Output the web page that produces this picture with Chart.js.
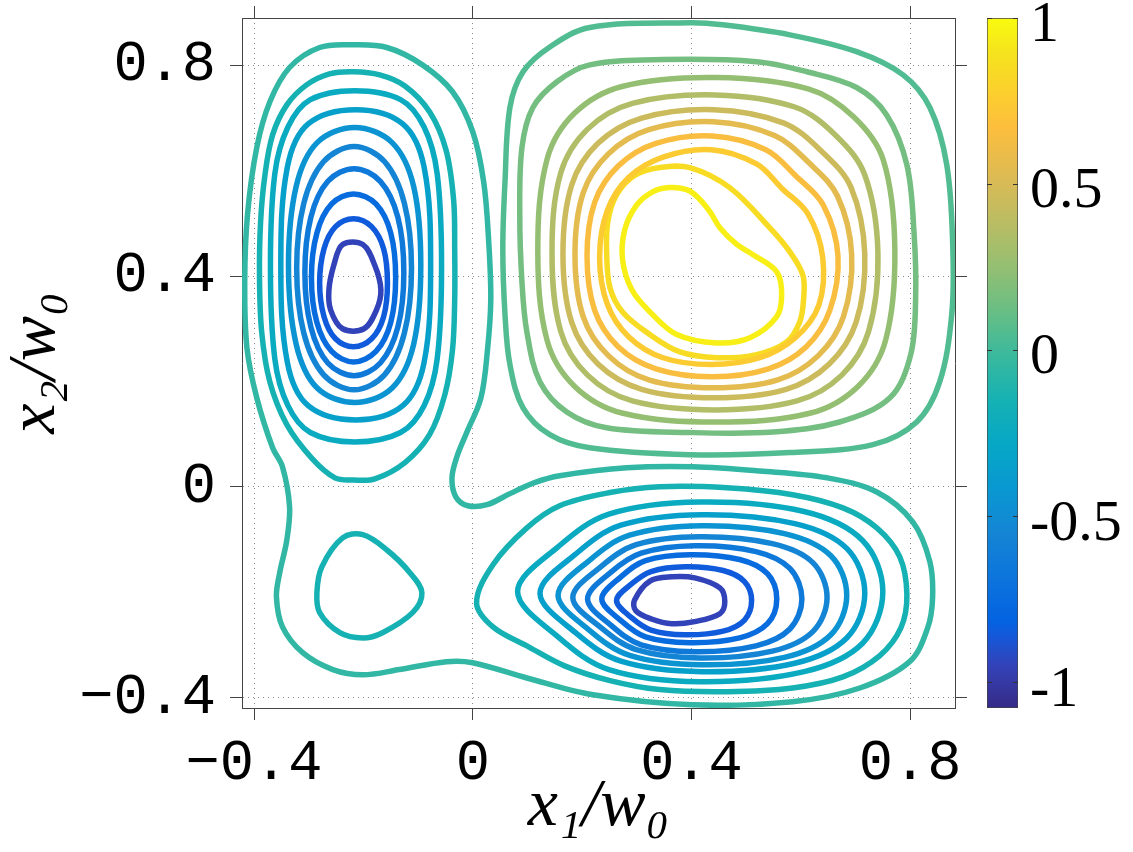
<!DOCTYPE html>
<html><head><meta charset="utf-8">
<script src="https://cdn.jsdelivr.net/npm/chart.js@4.4.1/dist/chart.umd.min.js"></script>
<style>
html,body{margin:0;padding:0;background:#fff;overflow:hidden;width:1133px;height:852px}
#main{position:absolute;left:0;top:0}
#cb{position:absolute;left:960px;top:0}
</style></head>
<body>
<canvas id="main" width="980" height="852"></canvas>
<canvas id="cb" width="173" height="852"></canvas>
<script>
// ---- axes / ticks ----
const xMin = -0.422, xMax = 0.882, yMin = -0.42, yMax = 0.89;
const xTickValues = [-0.4, 0, 0.4, 0.8];
const xTickLabels = ['\u22120.4', '0', '0.4', '0.8'];
const yTickValues = [-0.4, 0, 0.4, 0.8];
const yTickLabels = ['\u22120.4', '0', '0.4', '0.8'];
const cbMin = -1.077, cbMax = 1.0;
const cbTickValues = [-1, -0.5, 0, 0.5, 1];
const cbTickLabels = ['-1', '-0.5', '0', '0.5', '1'];

// ---- contour lines (x1/w0, x2/w0) ----
const negOuter = [[-0.220,0.839],[-0.157,0.834],[-0.092,0.801],[-0.037,0.750],[0.000,0.674],[0.020,0.579],[0.029,0.469],[0.033,0.355],[0.027,0.260],[0.015,0.169],[-0.011,0.103],[-0.029,0.057],[-0.038,0.017],[-0.031,-0.019],[-0.009,-0.036],[0.026,-0.034],[0.068,-0.013],[0.113,0.008],[0.159,0.021],[0.282,0.036],[0.402,0.038],[0.525,0.030],[0.648,0.017],[0.739,-0.010],[0.805,-0.067],[0.836,-0.142],[0.841,-0.211],[0.832,-0.268],[0.799,-0.332],[0.708,-0.382],[0.585,-0.408],[0.402,-0.414],[0.220,-0.395],[0.099,-0.363],[0.000,-0.334],[-0.048,-0.332],[-0.134,-0.347],[-0.201,-0.357],[-0.256,-0.347],[-0.311,-0.315],[-0.348,-0.266],[-0.359,-0.209],[-0.353,-0.163],[-0.340,-0.101],[-0.335,-0.038],[-0.348,0.038],[-0.366,0.074],[-0.395,0.169],[-0.413,0.264],[-0.417,0.389],[-0.412,0.516],[-0.395,0.644],[-0.371,0.731],[-0.335,0.796],[-0.280,0.834]];
const smallLoop = [[-0.201,-0.091],[-0.238,-0.097],[-0.276,-0.152],[-0.285,-0.201],[-0.280,-0.239],[-0.243,-0.277],[-0.201,-0.287],[-0.165,-0.277],[-0.110,-0.239],[-0.093,-0.201],[-0.115,-0.163],[-0.157,-0.120]];

const leftC2 = [[-0.218,0.788],[-0.170,0.782],[-0.124,0.761],[-0.079,0.712],[-0.049,0.640],[-0.035,0.545],[-0.033,0.450],[-0.033,0.355],[-0.037,0.260],[-0.051,0.175],[-0.079,0.099],[-0.124,0.046],[-0.179,0.015],[-0.218,0.013],[-0.252,0.017],[-0.295,0.055],[-0.340,0.118],[-0.371,0.199],[-0.386,0.294],[-0.390,0.399],[-0.388,0.503],[-0.380,0.592],[-0.366,0.668],[-0.340,0.725],[-0.304,0.763],[-0.262,0.784]];
const leftC3 = [[-0.057,0.419],[-0.065,0.594],[-0.089,0.683],[-0.132,0.735],[-0.216,0.752],[-0.297,0.735],[-0.338,0.683],[-0.362,0.594],[-0.370,0.419],[-0.362,0.243],[-0.338,0.154],[-0.297,0.103],[-0.216,0.085],[-0.132,0.103],[-0.089,0.154],[-0.065,0.243]];
const leftC4 = [[-0.077,0.422],[-0.089,0.607],[-0.128,0.689],[-0.214,0.716],[-0.301,0.689],[-0.339,0.607],[-0.351,0.422],[-0.339,0.236],[-0.301,0.154],[-0.214,0.127],[-0.128,0.154],[-0.089,0.236]];
const leftC5 = [[-0.095,0.421],[-0.108,0.570],[-0.147,0.653],[-0.216,0.682],[-0.285,0.653],[-0.323,0.570],[-0.337,0.421],[-0.323,0.271],[-0.285,0.188],[-0.216,0.160],[-0.147,0.188],[-0.108,0.271]];
const leftC6 = [[-0.112,0.415],[-0.125,0.538],[-0.161,0.617],[-0.217,0.646],[-0.273,0.617],[-0.309,0.538],[-0.322,0.415],[-0.309,0.292],[-0.273,0.213],[-0.217,0.184],[-0.161,0.213],[-0.125,0.292]];
const leftC7 = [[-0.126,0.407],[-0.137,0.512],[-0.169,0.580],[-0.217,0.604],[-0.265,0.580],[-0.296,0.512],[-0.307,0.407],[-0.296,0.303],[-0.265,0.235],[-0.217,0.211],[-0.169,0.235],[-0.137,0.303]];
const leftC8 = [[-0.141,0.397],[-0.150,0.482],[-0.177,0.537],[-0.218,0.556],[-0.258,0.537],[-0.285,0.482],[-0.295,0.397],[-0.285,0.312],[-0.258,0.257],[-0.218,0.237],[-0.177,0.257],[-0.150,0.312]];
const leftC9 = [[-0.156,0.387],[-0.163,0.452],[-0.185,0.494],[-0.218,0.509],[-0.251,0.494],[-0.272,0.452],[-0.280,0.387],[-0.272,0.323],[-0.251,0.281],[-0.218,0.266],[-0.185,0.281],[-0.163,0.323]];
const leftC10 = [[-0.238,0.460],[-0.201,0.460],[-0.179,0.420],[-0.168,0.374],[-0.176,0.336],[-0.199,0.300],[-0.238,0.300],[-0.260,0.336],[-0.263,0.374],[-0.254,0.421]];

const botB2 = [[0.007,-0.220],[0.037,-0.148],[0.099,-0.078],[0.159,-0.036],[0.251,-0.011],[0.342,0.000],[0.465,-0.002],[0.585,-0.015],[0.677,-0.040],[0.739,-0.078],[0.781,-0.133],[0.794,-0.205],[0.783,-0.268],[0.744,-0.321],[0.677,-0.361],[0.585,-0.382],[0.465,-0.389],[0.342,-0.385],[0.251,-0.368],[0.168,-0.340],[0.099,-0.302],[0.037,-0.266]];
const botB3 = [[0.750,-0.199],[0.713,-0.102],[0.606,-0.047],[0.415,-0.029],[0.249,-0.052],[0.156,-0.114],[0.082,-0.199],[0.156,-0.285],[0.249,-0.347],[0.415,-0.370],[0.606,-0.351],[0.713,-0.297]];
const botB4 = [[0.717,-0.202],[0.684,-0.117],[0.589,-0.070],[0.419,-0.053],[0.271,-0.073],[0.188,-0.128],[0.123,-0.202],[0.188,-0.277],[0.271,-0.331],[0.419,-0.351],[0.589,-0.335],[0.684,-0.287]];
const botB5 = [[0.684,-0.206],[0.655,-0.131],[0.570,-0.089],[0.419,-0.074],[0.287,-0.092],[0.213,-0.140],[0.156,-0.206],[0.213,-0.272],[0.287,-0.320],[0.419,-0.338],[0.570,-0.324],[0.655,-0.281]];
const botB6 = [[0.648,-0.210],[0.622,-0.144],[0.548,-0.108],[0.415,-0.095],[0.299,-0.110],[0.234,-0.152],[0.183,-0.210],[0.234,-0.267],[0.299,-0.309],[0.415,-0.325],[0.548,-0.312],[0.622,-0.275]];
const botB7 = [[0.602,-0.213],[0.580,-0.155],[0.518,-0.123],[0.406,-0.112],[0.308,-0.126],[0.253,-0.162],[0.210,-0.213],[0.253,-0.263],[0.308,-0.300],[0.406,-0.313],[0.518,-0.302],[0.580,-0.270]];
const botB8 = [[0.556,-0.213],[0.539,-0.165],[0.488,-0.138],[0.397,-0.129],[0.316,-0.140],[0.271,-0.171],[0.236,-0.213],[0.271,-0.254],[0.316,-0.285],[0.397,-0.296],[0.488,-0.287],[0.539,-0.260]];
const botB9 = [[0.510,-0.216],[0.497,-0.180],[0.458,-0.159],[0.388,-0.152],[0.326,-0.161],[0.291,-0.184],[0.263,-0.216],[0.291,-0.249],[0.326,-0.272],[0.388,-0.281],[0.458,-0.274],[0.497,-0.253]];
const botB10 = [[0.296,-0.215],[0.324,-0.179],[0.364,-0.171],[0.406,-0.173],[0.452,-0.192],[0.461,-0.218],[0.452,-0.241],[0.406,-0.256],[0.364,-0.260],[0.327,-0.251],[0.298,-0.235]];

const topT1 = [[0.214,0.872],[0.397,0.881],[0.457,0.877],[0.580,0.858],[0.702,0.826],[0.787,0.782],[0.836,0.720],[0.867,0.611],[0.878,0.454],[0.876,0.327],[0.854,0.199],[0.812,0.123],[0.732,0.080],[0.580,0.065],[0.397,0.061],[0.214,0.074],[0.141,0.099],[0.092,0.150],[0.068,0.232],[0.059,0.327],[0.055,0.454],[0.059,0.579],[0.068,0.720],[0.092,0.788],[0.141,0.835]];
const topT2 = [[0.214,0.801],[0.348,0.811],[0.519,0.807],[0.611,0.788],[0.702,0.758],[0.757,0.706],[0.794,0.611],[0.807,0.484],[0.810,0.359],[0.801,0.251],[0.763,0.169],[0.671,0.123],[0.549,0.104],[0.397,0.103],[0.245,0.112],[0.172,0.142],[0.123,0.199],[0.099,0.294],[0.090,0.389],[0.086,0.516],[0.090,0.644],[0.110,0.720],[0.154,0.769]];
const topT3 = [[0.772,0.450],[0.751,0.620],[0.697,0.702],[0.615,0.755],[0.445,0.777],[0.273,0.760],[0.186,0.709],[0.136,0.622],[0.119,0.450],[0.136,0.278],[0.186,0.191],[0.273,0.140],[0.445,0.123],[0.618,0.140],[0.705,0.191],[0.755,0.278]];
const topT4 = [[0.741,0.445],[0.717,0.592],[0.664,0.667],[0.589,0.721],[0.443,0.744],[0.292,0.728],[0.210,0.679],[0.161,0.596],[0.145,0.445],[0.161,0.295],[0.210,0.212],[0.292,0.163],[0.443,0.146],[0.593,0.163],[0.675,0.212],[0.724,0.295]];
const topT5 = [[0.717,0.442],[0.692,0.568],[0.638,0.637],[0.568,0.691],[0.441,0.716],[0.309,0.700],[0.229,0.652],[0.181,0.573],[0.165,0.442],[0.181,0.312],[0.229,0.233],[0.309,0.185],[0.441,0.169],[0.573,0.185],[0.652,0.233],[0.701,0.312]];
const topT6 = [[0.693,0.441],[0.667,0.552],[0.615,0.615],[0.552,0.667],[0.440,0.693],[0.322,0.678],[0.248,0.632],[0.202,0.558],[0.187,0.441],[0.202,0.323],[0.248,0.249],[0.322,0.203],[0.440,0.188],[0.558,0.203],[0.632,0.249],[0.678,0.323]];
const topT7 = [[0.668,0.438],[0.641,0.535],[0.591,0.590],[0.536,0.640],[0.438,0.666],[0.335,0.652],[0.266,0.609],[0.223,0.540],[0.209,0.438],[0.223,0.335],[0.266,0.266],[0.335,0.224],[0.438,0.209],[0.541,0.224],[0.610,0.266],[0.653,0.335]];
const topT8 = [[0.640,0.436],[0.613,0.518],[0.566,0.566],[0.519,0.613],[0.436,0.640],[0.348,0.626],[0.285,0.587],[0.246,0.524],[0.232,0.436],[0.246,0.347],[0.285,0.285],[0.348,0.245],[0.436,0.232],[0.525,0.245],[0.590,0.283],[0.633,0.345]];
const topT9 = [[0.397,0.606],[0.470,0.568],[0.543,0.492],[0.580,0.446],[0.604,0.401],[0.605,0.355],[0.598,0.313],[0.574,0.275],[0.519,0.251],[0.446,0.245],[0.379,0.256],[0.324,0.289],[0.274,0.332],[0.251,0.378],[0.245,0.441],[0.247,0.503],[0.263,0.554],[0.296,0.591],[0.342,0.606]];
const topT10 = [[0.360,0.568],[0.391,0.564],[0.410,0.551],[0.434,0.522],[0.452,0.492],[0.483,0.460],[0.512,0.441],[0.556,0.408],[0.565,0.365],[0.556,0.323],[0.507,0.283],[0.446,0.273],[0.373,0.289],[0.324,0.332],[0.291,0.374],[0.274,0.431],[0.278,0.488],[0.300,0.535],[0.329,0.560]];

// contour level of each line
const contours = [
  {level: -0.05, pts: negOuter}, {level: -0.15, pts: smallLoop},
  {level: -0.15, pts: leftC2}, {level: -0.25, pts: leftC3}, {level: -0.35, pts: leftC4},
  {level: -0.45, pts: leftC5}, {level: -0.55, pts: leftC6}, {level: -0.65, pts: leftC7},
  {level: -0.75, pts: leftC8}, {level: -0.85, pts: leftC9}, {level: -0.95, pts: leftC10},
  {level: -0.15, pts: botB2}, {level: -0.25, pts: botB3}, {level: -0.35, pts: botB4},
  {level: -0.45, pts: botB5}, {level: -0.55, pts: botB6}, {level: -0.65, pts: botB7},
  {level: -0.75, pts: botB8}, {level: -0.85, pts: botB9}, {level: -0.95, pts: botB10},
  {level: 0.05, pts: topT1}, {level: 0.15, pts: topT2}, {level: 0.25, pts: topT3},
  {level: 0.35, pts: topT4}, {level: 0.45, pts: topT5}, {level: 0.55, pts: topT6},
  {level: 0.65, pts: topT7}, {level: 0.75, pts: topT8}, {level: 0.85, pts: topT9},
  {level: 0.95, pts: topT10}
];

// ---- parula colormap ----
const parulaStops = [[0,53,42,135],[0.032,54,55,160],[0.063,50,67,186],[0.111,15,92,221],[0.127,3,99,225],[0.19,13,117,220],[0.254,20,133,212],[0.317,9,152,209],[0.381,6,167,198],[0.444,21,177,180],[0.508,56,185,158],[0.571,101,190,134],[0.635,146,191,115],[0.698,183,189,100],[0.762,217,186,86],[0.841,253,190,61],[0.889,252,206,46],[0.952,245,228,29],[1,249,251,14]];
function parula(t) {
  t = Math.max(0, Math.min(1, t));
  for (let i = 1; i < parulaStops.length; i++) {
    const a = parulaStops[i-1], b = parulaStops[i];
    if (t <= b[0]) {
      const f = (t - a[0]) / (b[0] - a[0]);
      const c = [1,2,3].map(k => Math.round(a[k] + f * (b[k] - a[k])));
      return 'rgb(' + c.join(',') + ')';
    }
  }
  return 'rgb(249,251,14)';
}

const closeLoops = {
  id: 'closeLoops',
  beforeDatasetsDraw(chart) {
    chart.data.datasets.forEach((d, i) => {
      const line = chart.getDatasetMeta(i).dataset;
      if (!line) return;
      line._loop = true; line._fullLoop = true;
      line._pointsUpdated = false; line._path = undefined; delete line._segments;
      line.updateControlPoints(chart.chartArea, 'x');
    });
  }
};

function noPad(s) { s.paddingTop = 0; s.paddingBottom = 0; s.paddingLeft = 0; s.paddingRight = 0; }

const tickFont = {family: 'Liberation Mono', size: 57};
const titleFont = {family: 'Liberation Serif', style: 'italic', size: 68};
const gridCommon = {color: '#8a8a8a', lineWidth: 1, tickLength: 12, tickColor: '#444', tickWidth: 1, tickBorderDash: []};

new Chart(document.getElementById('main'), {
  type: 'scatter',
  data: {
    datasets: contours.map(c => ({
      data: c.pts.map(p => ({x: p[0], y: p[1]})),
      showLine: true,
      borderColor: parula((c.level - cbMin) / (cbMax - cbMin)),
      borderWidth: 5.5,
      borderJoinStyle: 'round',
      tension: 0.35,
      pointRadius: 0, pointHoverRadius: 0,
      fill: false
    }))
  },
  options: {
    responsive: false, animation: false, events: [],
    layout: {padding: 0, autoPadding: false},
    plugins: {legend: {display: false}, tooltip: {enabled: false}},
    scales: {
      x: {
        type: 'linear', position: 'bottom', min: xMin, max: xMax,
        afterBuildTicks: s => { s.ticks = xTickValues.map(v => ({value: v})); },
        afterFit: s => { s.height = 144; noPad(s); },
        ticks: {callback: (v, i) => xTickLabels[i], font: tickFont, color: '#000', padding: 10, maxRotation: 0, autoSkip: false},
        grid: Object.assign({}, gridCommon),
        border: {display: true, color: '#444', width: 1, dash: [1, 4]},
        title: {display: true, text: 'x\u2081/w\u2080', font: titleFont, color: '#000', padding: {top: 0, bottom: 4}}
      },
      y: {
        type: 'linear', position: 'left', min: yMin, max: yMax,
        afterBuildTicks: s => { s.ticks = yTickValues.map(v => ({value: v})); },
        afterFit: s => { s.width = 242; noPad(s); },
        ticks: {callback: (v, i) => yTickLabels[i], font: tickFont, color: '#000', padding: 14, autoSkip: false},
        grid: Object.assign({}, gridCommon),
        border: {display: true, color: '#444', width: 1, dash: [1, 4]},
        title: {display: true, text: 'x\u2082/w\u2080', font: titleFont, color: '#000', padding: {top: -5, bottom: 0}}
      },
      x2: {
        type: 'linear', position: 'top', min: xMin, max: xMax,
        afterBuildTicks: s => { s.ticks = xTickValues.map(v => ({value: v})); },
        afterFit: s => { s.height = 18; noPad(s); },
        ticks: {display: false},
        grid: Object.assign({}, gridCommon, {drawOnChartArea: false}),
        border: {display: true, color: '#444', width: 1}
      },
      y2: {
        type: 'linear', position: 'right', min: yMin, max: yMax,
        afterBuildTicks: s => { s.ticks = yTickValues.map(v => ({value: v})); },
        afterFit: s => { s.width = 25; noPad(s); },
        ticks: {display: false},
        grid: Object.assign({}, gridCommon, {drawOnChartArea: false}),
        border: {display: true, color: '#444', width: 1}
      }
    }
  },
  plugins: [closeLoops]
});

// ---- colour bar ----
new Chart(document.getElementById('cb'), {
  type: 'bar',
  data: {
    labels: [''],
    datasets: [{
      data: [[cbMin, cbMax]],
      backgroundColor: (c) => {
        const ch = c.chart;
        if (!ch.chartArea) return '#2eb7a4';
        const ys = ch.scales.y;
        const g = ch.ctx.createLinearGradient(0, ys.getPixelForValue(cbMin), 0, ys.getPixelForValue(cbMax));
        parulaStops.forEach(s => g.addColorStop(s[0], 'rgb(' + s[1] + ',' + s[2] + ',' + s[3] + ')'));
        return g;
      },
      borderColor: '#444', borderWidth: 1, borderSkipped: false,
      barPercentage: 1, categoryPercentage: 1
    }]
  },
  options: {
    responsive: false, animation: false, events: [],
    layout: {padding: {left: 27, right: 0, top: 18, bottom: 144}, autoPadding: false},
    plugins: {legend: {display: false}, tooltip: {enabled: false}},
    scales: {
      x: {display: false},
      y: {
        position: 'right', min: cbMin, max: cbMax, z: 1,
        afterBuildTicks: s => { s.ticks = cbTickValues.map(v => ({value: v})); },
        afterFit: s => { s.width = 115; noPad(s); },
        ticks: {callback: (v, i) => cbTickLabels[i], font: {family: 'Liberation Serif', size: 58}, color: '#000', padding: 12, labelOffset: 8},
        grid: {drawTicks: false, color: '#333', lineWidth: 1, z: 1},
        border: {display: false, dash: [5, 21]}
      }
    }
  }
});
</script>
</body></html>
